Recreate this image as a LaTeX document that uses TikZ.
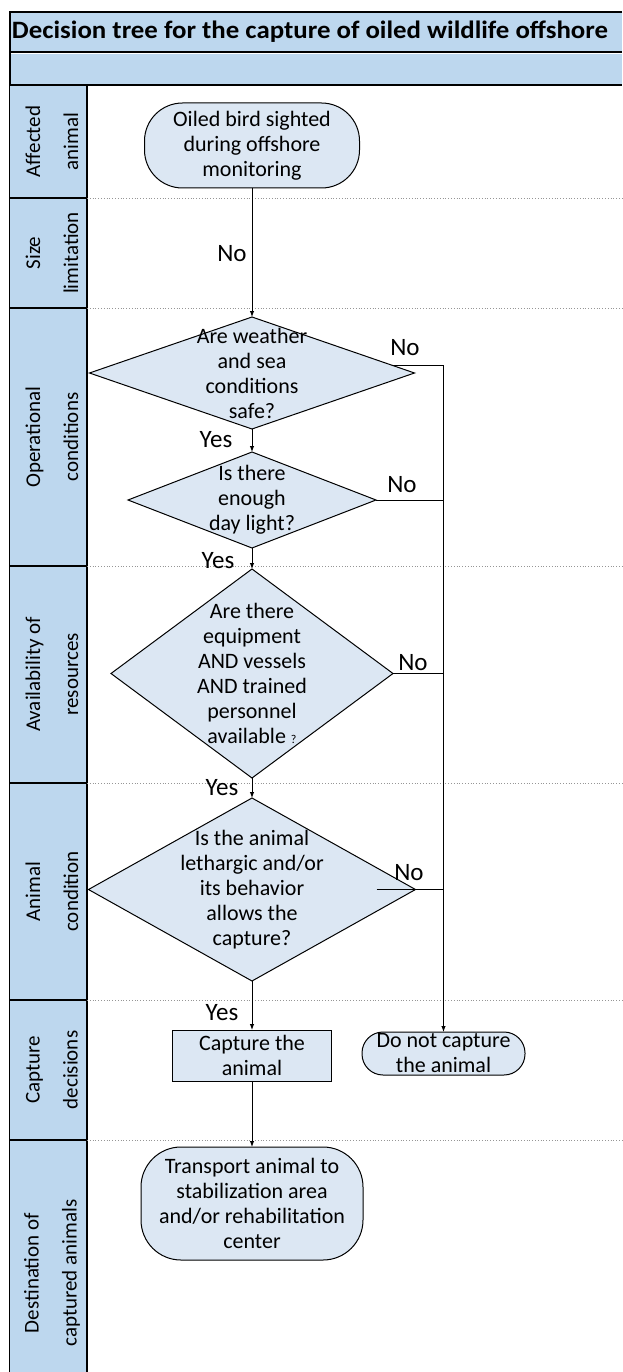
\documentclass[tikz,border=0pt]{standalone}
\usepackage{fontspec}
\usepackage{graphicx}
\setmainfont{Carlito}
\usetikzlibrary{shapes.geometric,arrows.meta,calc}
\definecolor{bandblue}{RGB}{189,215,238}
\definecolor{nodeblue}{RGB}{220,231,243}
\definecolor{dotgray}{RGB}{150,150,150}
\newcommand\nfont{\fontsize{22}{25}\selectfont}
\newcommand\efont{\fontsize{25}{28}\selectfont}
\newcommand\lfont{\fontsize{21}{38}\selectfont}
\newcommand\tfont{\fontsize{25}{30}\selectfont\bfseries}
\begin{document}
\begin{tikzpicture}[x=1pt,y=-1pt,
  every node/.style={inner sep=0pt, outer sep=0pt},
  line/.style={line width=1pt, draw=black},
  arr/.style={line, -{Latex[length=6pt,width=4.5pt]}},
  qbox/.style={shape=diamond, draw=black, line width=1pt, fill=nodeblue},
  txt/.style={font=\nfont, align=center},
  term/.style={draw=black, line width=1pt, fill=nodeblue, rectangle},
  elabel/.style={font=\efont},
  lanelabel/.style={font=\lfont, align=center, rotate=90},
  lanesep/.style={draw=dotgray, dotted, line width=0.8pt},
  labsep/.style={draw=black, line width=1.2pt}
]
\useasboundingbox (0,0) rectangle (622,1372);
% bands
\fill[bandblue] (10,12) rectangle (622,52);
\fill[bandblue] (10,54) rectangle (622,85);
\draw[line width=1.3pt] (622,12) -- (10,12) -- (10,1372);
\draw[line width=1.3pt] (10,52) -- (622,52);
\draw[line width=1.3pt] (10,85) -- (622,85);
\node[font=\tfont, anchor=base west] (title) at (12,38.5) {\resizebox{596pt}{\height}{Decision tree for the capture of oiled wildlife offshore}};
% label column
\fill[bandblue] (10,86) rectangle (87,1372);
\draw[line width=1.3pt] (87,85) -- (87,1372);
\foreach \yy in {198,308,566,783,1000,1140} {
  \draw[labsep] (10,\yy) -- (87,\yy);
  \draw[lanesep] (87,\yy) -- (622,\yy);
}
\node[lanelabel] (lab1) at (52,141.5) {Affected\\animal};
\node[lanelabel] (lab2) at (52,253) {Size\\limitation};
\node[lanelabel] (lab3) at (52,437) {Operational\\conditions};
\node[lanelabel] (lab4) at (52,674.5) {Availability of\\resources};
\node[lanelabel] (lab5) at (52,891.5) {Animal\\condition};
\node[lanelabel] (lab6) at (52,1070) {Capture\\decisions};
\node[lanelabel] (lab7) at (52,1273) {Destination of\\captured animals};
% nodes
\node[term, rounded corners=38pt, minimum width=215pt, minimum height=85pt, txt] (oiled) at (252,145.5) {Oiled bird sighted\\during offshore\\monitoring};
\node[qbox, minimum width=325pt, minimum height=112pt, label={[txt]center:{Are weather\\and sea\\conditions\\safe?}}] (d1) at (252,373) {};
\node[qbox, minimum width=248pt, minimum height=96pt, label={[txt]center:{Is there\\enough\\day light?}}] (d2) at (252,500) {};
\node[qbox, minimum width=282pt, minimum height=209pt, label={[txt]center:{Are there\\equipment\\AND vessels\\AND trained\\personnel\\available {\fontsize{12}{12}\selectfont ?}}}] (d3) at (252,673.5) {};
\node[qbox, minimum width=327pt, minimum height=183pt, label={[txt]center:{Is the animal\\lethargic and/or\\its behavior\\allows the\\capture?}}] (d4) at (252,889.5) {};
\node[term, minimum width=159pt, minimum height=51pt, label={[txt]center:{Capture the\\animal}}] (capture) at (252,1055.5) {};
\node[term, rounded corners=21pt, minimum width=163pt, minimum height=43pt, label={[txt]center:{Do not capture\\the animal}}] (nocap) at (443.5,1053.5) {};
\node[term, rounded corners=40pt, minimum width=222pt, minimum height=113pt, txt] (transport) at (252,1203.5) {Transport animal to\\stabilization area\\and/or rehabilitation\\center};
% connectors
\draw[arr] (oiled.south) -- (d1.north);
\draw[arr] (d1.south) -- (d2.north);
\draw[arr] (d2.south) -- (d3.north);
\draw[arr] (d3.south) -- (d4.north);
\draw[arr] (d4.south) -- (capture.north);
\draw[arr] (capture.south) -- (transport.north);
\draw[arr] (d1.3.8) -- (d1.3.8 -| nocap.north) -- (nocap.north);
\draw[line] (d2.east) -- (d2.east -| nocap.north);
\draw[line] (d3.east) -- (d3.east -| nocap.north);
\draw[line] ([xshift=-39pt]d4.east) -- (d4.east -| nocap.north);
% edge labels
\node[elabel] (no0) at (232,254) {No};
\node[elabel] (no1) at (405,348) {No};
\node[elabel] (yes1) at (216,440) {Yes};
\node[elabel] (no2) at (402,485) {No};
\node[elabel] (yes2) at (218,561) {Yes};
\node[elabel] (no3) at (413,663) {No};
\node[elabel] (yes3) at (222,788) {Yes};
\node[elabel] (no4) at (409,873) {No};
\node[elabel] (yes4) at (222,1013) {Yes};
\end{tikzpicture}
\end{document}
